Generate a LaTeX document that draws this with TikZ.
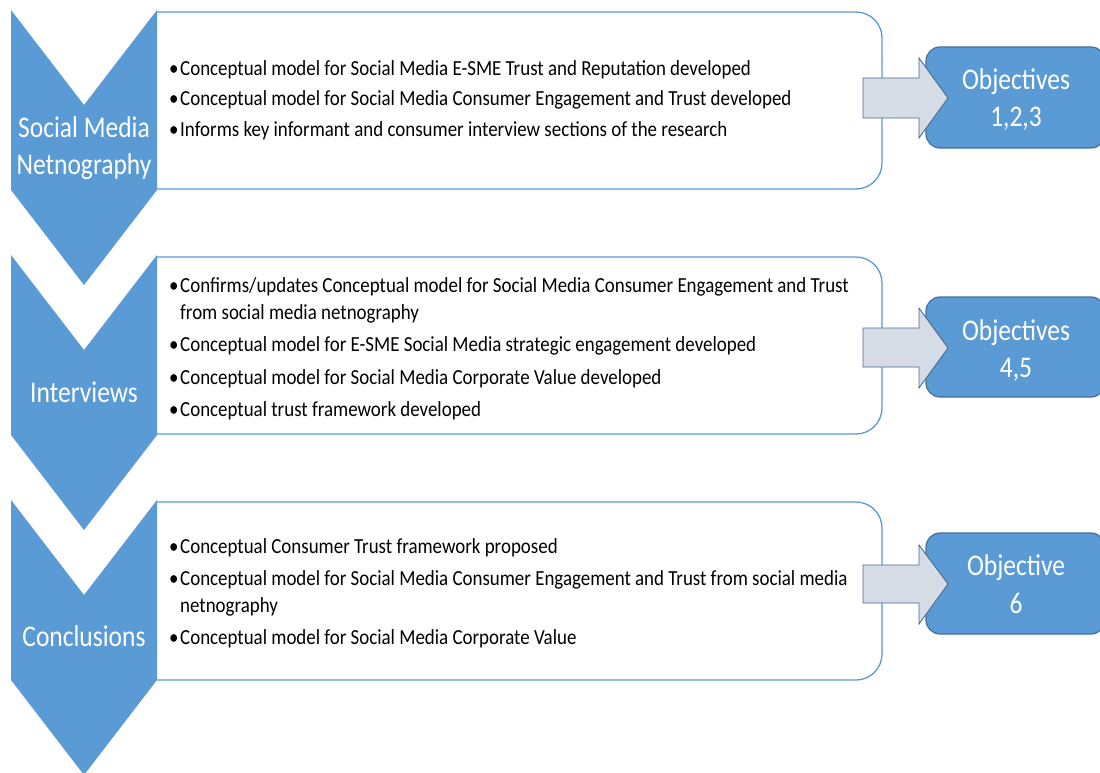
\documentclass[tikz,border=0pt]{standalone}
\usepackage{fontspec}
\setmainfont{Carlito}
\newcommand{\bodyt}[1]{\scalebox{0.88}[1]{\fontsize{21.5}{26}\selectfont #1}}
\newcommand{\bigt}[1]{\scalebox{0.85}[1]{\fontsize{30}{36}\selectfont #1}}
\begin{document}
\begin{tikzpicture}[x=1pt,y=-1pt,
  chev/.style={fill=chevblue,draw=none},
  cbox/.style={draw=chevblue,line width=1.3pt,fill=white,rounded corners=26pt},
  blk/.style={fill=arrowgray,draw=arrowedge,line width=0.9pt,line join=miter},
  objbox/.style={fill=chevblue,draw=objedge,line width=1.2pt,rounded corners=14pt,minimum width=179pt,inner sep=0pt},
  wtxt/.style={text=white,anchor=base,inner sep=0pt},
  btxt/.style={anchor=base west,inner sep=0pt},
  bul/.style={anchor=base west,inner sep=0pt}
]
\definecolor{chevblue}{HTML}{5B9BD5}
\definecolor{objedge}{HTML}{41719C}
\definecolor{arrowgray}{HTML}{D6DCE5}
\definecolor{arrowedge}{HTML}{4A6C8F}
\clip (0,0) rectangle (1100,773);
\fill[white] (0,0) rectangle (1100,773);

% content boxes (right side rounded)
\draw[cbox] (157,12) -- (882,12) -- (882,189) -- (157,189);
\draw[cbox] (157,257) -- (882,257) -- (882,434) -- (157,434);
\draw[cbox] (157,502) -- (882,502) -- (882,680) -- (157,680);

% chevrons
\fill[chev] (11,10) -- (84,105) -- (157,10) -- (157,190) -- (84,285) -- (11,190) -- cycle;
\fill[chev] (11,255) -- (84,350) -- (157,255) -- (157,435) -- (84,530) -- (11,435) -- cycle;
\fill[chev] (11,500) -- (84,595) -- (157,500) -- (157,680) -- (84,775) -- (11,680) -- cycle;

\node[wtxt] (c1a) at (84,138) {\bigt{Social Media}};
\node[wtxt] (c1b) at (84,175) {\bigt{Netnography}};
\node[wtxt] (c2) at (84,402) {\bigt{Interviews}};
\node[wtxt] (c3) at (84,646) {\bigt{Conclusions}};

% objective boxes
\node[objbox,minimum height=101pt] (o1) at (1015.5,97.5) {};
\node[objbox,minimum height=100pt] (o2) at (1015.5,347) {};
\node[objbox,minimum height=101pt] (o3) at (1015.5,583.5) {};
\node[wtxt] (t1a) at (1016,90) {\bigt{Objectives}};
\node[wtxt] (t1b) at (1016,127) {\bigt{1,2,3}};
\node[wtxt] (t2a) at (1016,340) {\bigt{Objectives}};
\node[wtxt] (t2b) at (1016,377) {\bigt{4,5}};
\node[wtxt] (t3a) at (1016,575) {\bigt{Objective}};
\node[wtxt] (t3b) at (1016,613) {\bigt{6}};

% block arrows
\draw[blk] (863,78) -- (919,78) -- (919,58) -- (948,98) -- (919,138) -- (919,118) -- (863,118) -- cycle;
\draw[blk] (863,328) -- (919,328) -- (919,308) -- (948,348) -- (919,388) -- (919,367) -- (863,367) -- cycle;
\draw[blk] (863,565) -- (919,565) -- (919,545) -- (948,584) -- (919,624) -- (919,603) -- (863,603) -- cycle;

% box 1 bullets
\node[bul] (b11) at (169,76) {\bodyt{•}};
\node[btxt] (l11) at (180,76) {\bodyt{Conceptual model for Social Media E-SME Trust and Reputation developed}};
\node[bul] (b12) at (169,106) {\bodyt{•}};
\node[btxt] (l12) at (180,106) {\bodyt{Conceptual model for Social Media Consumer Engagement and Trust developed}};
\node[bul] (b13) at (169,137) {\bodyt{•}};
\node[btxt] (l13) at (180,137) {\bodyt{Informs key informant and consumer interview sections of the research}};

% box 2 bullets
\node[bul] (b21) at (169,292) {\bodyt{•}};
\node[btxt] (l21) at (180,292) {\bodyt{Confirms/updates Conceptual model for Social Media Consumer Engagement and Trust}};
\node[btxt] (l21b) at (180,319) {\bodyt{from social media netnography}};
\node[bul] (b22) at (169,351) {\bodyt{•}};
\node[btxt] (l22) at (180,351) {\bodyt{Conceptual model for E-SME Social Media strategic engagement developed}};
\node[bul] (b23) at (169,384) {\bodyt{•}};
\node[btxt] (l23) at (180,384) {\bodyt{Conceptual model for Social Media Corporate Value developed}};
\node[bul] (b24) at (169,416) {\bodyt{•}};
\node[btxt] (l24) at (180,416) {\bodyt{Conceptual trust framework developed}};

% box 3 bullets
\node[bul] (b31) at (169,553) {\bodyt{•}};
\node[btxt] (l31) at (180,553) {\bodyt{Conceptual Consumer Trust framework proposed}};
\node[bul] (b32) at (169,585) {\bodyt{•}};
\node[btxt] (l32) at (180,585) {\bodyt{Conceptual model for Social Media Consumer Engagement and Trust from social media}};
\node[btxt] (l32b) at (180,612) {\bodyt{netnography}};
\node[bul] (b33) at (169,644) {\bodyt{•}};
\node[btxt] (l33) at (180,644) {\bodyt{Conceptual model for Social Media Corporate Value}};
\end{tikzpicture}
\end{document}
